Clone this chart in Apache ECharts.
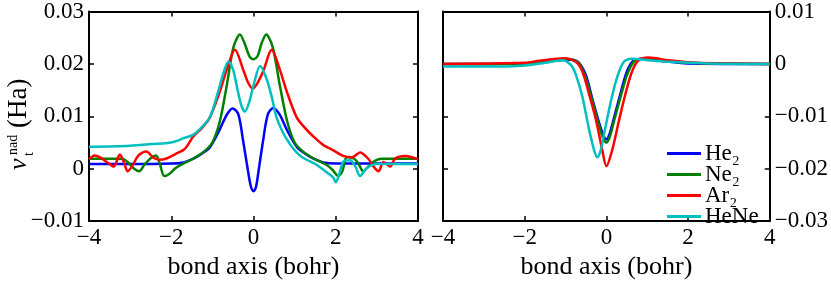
<!DOCTYPE html>
<html><head><meta charset="utf-8">
<script src="https://cdn.jsdelivr.net/npm/echarts@6/dist/echarts.min.js"></script>
<style>html,body{margin:0;padding:0;background:#fff}#c{width:831px;height:285px}</style>
</head><body><div id="c"></div>
<script>
// ---- data ----
const seriesNames = ['He\u2082', 'Ne\u2082', 'Ar\u2082', 'HeNe'];
const seriesColors = ['#0000ff', '#008000', '#ff0000', '#00bfbf'];
const xTickRange = [-4, 4, 2];            // min, max, interval (bohr)
const leftYTickRange = [-0.01, 0.03, 0.01];
const rightYTickRange = [-0.03, 0.01, 0.01];
const xAxisTitle = 'bond axis (bohr)';

// left panel
const he2Left = [[-4,0.0009],[-3,0.0009],[-2,0.001],[-1.7,0.0012],[-1.46,0.0019],[-1.25,0.0029],[-1.06,0.0041],[-0.82,0.0075],[-0.65,0.0103],[-0.51,0.0115],[-0.37,0.0104],[-0.25,0.0052],[-0.13,-0.0006],[-0.06,-0.0035],[0,-0.0043],[0.06,-0.0035],[0.12,-0.0006],[0.23,0.0052],[0.35,0.0104],[0.48,0.0116],[0.63,0.0104],[0.8,0.0076],[1.06,0.0041],[1.25,0.0029],[1.46,0.0019],[1.7,0.0012],[2,0.001],[3,0.001],[4,0.001]];
const ne2Left = [[-4,0.0019],[-3.4,0.0019],[-3.2,0.0019],[-3.05,0.0012],[-2.9,0.0],[-2.78,-0.0005],[-2.65,0.0008],[-2.5,0.002],[-2.37,0.0025],[-2.28,0.001],[-2.17,-0.0014],[-2.05,-0.001],[-1.9,0.0001],[-1.78,0.0007],[-1.45,0.002],[-1.2,0.0033],[-1.0,0.005],[-0.82,0.009],[-0.65,0.0159],[-0.49,0.0231],[-0.33,0.0256],[-0.22,0.024],[-0.1,0.0215],[0,0.0209],[0.1,0.0215],[0.2,0.024],[0.31,0.0256],[0.47,0.0231],[0.64,0.0159],[0.82,0.009],[1.0,0.005],[1.2,0.0033],[1.45,0.002],[1.78,0.0007],[1.92,-0.0002],[2.06,-0.0014],[2.16,-0.0005],[2.27,0.0022],[2.45,0.0019],[2.55,0.001],[2.67,-0.0005],[2.8,0.0005],[2.95,0.0015],[3.12,0.0019],[4,0.0019]];
const ar2Left = [[-4,0.0018],[-3.86,0.0025],[-3.72,0.0021],[-3.55,0.0012],[-3.4,0.0004],[-3.25,0.0027],[-3.15,0.0012],[-3.06,-0.0005],[-2.95,0.0005],[-2.8,0.0025],[-2.6,0.0033],[-2.45,0.0022],[-2.3,0.0017],[-2.1,0.002],[-1.9,0.0028],[-1.67,0.0038],[-1.46,0.0062],[-1.25,0.0078],[-1.06,0.0098],[-0.82,0.0147],[-0.65,0.0189],[-0.45,0.0227],[-0.25,0.0189],[-0.13,0.0164],[-0.02,0.0153],[0.1,0.0164],[0.25,0.0189],[0.44,0.0227],[0.64,0.0189],[0.81,0.0147],[1.05,0.0098],[1.25,0.0078],[1.45,0.0062],[1.7,0.0045],[1.94,0.0035],[2.2,0.0024],[2.4,0.0022],[2.59,0.0031],[2.79,0.0019],[2.92,0.0004],[3.04,-0.0005],[3.16,0.0013],[3.32,0.0004],[3.44,0.0019],[3.69,0.0024],[3.85,0.0022],[4,0.0018]];
const heneLeft = [[-4,0.0042],[-3,0.0044],[-2.48,0.0047],[-2.0,0.005],[-1.67,0.0059],[-1.46,0.0065],[-1.25,0.008],[-1.06,0.0098],[-0.86,0.0147],[-0.72,0.0185],[-0.61,0.0204],[-0.5,0.019],[-0.41,0.0159],[-0.3,0.0122],[-0.21,0.0109],[-0.1,0.0128],[0,0.0159],[0.16,0.0196],[0.32,0.0171],[0.45,0.0135],[0.56,0.0098],[0.81,0.0056],[1.13,0.0025],[1.54,0.0007],[1.8,-0.0008],[1.94,-0.0017],[2.0,-0.0026],[2.08,-0.0012],[2.18,0.0013],[2.35,0.0016],[2.48,0.0004],[2.59,-0.0014],[2.75,0.0001],[3.0,0.0009],[4,0.0009]];

// right panel
const he2Right = [[-4,0],[-2,0.0001],[-1.5,0.0004],[-1.0,0.0008],[-0.85,0.0008],[-0.67,0.0002],[-0.5,-0.0022],[-0.35,-0.0065],[-0.18,-0.0112],[-0.08,-0.0135],[0,-0.0144],[0.08,-0.0133],[0.18,-0.0105],[0.35,-0.0055],[0.5,-0.0015],[0.65,0.0005],[0.87,0.001],[1.2,0.0007],[2,0.0001],[4,0]];
const ne2Right = [[-4,0],[-2,0.0001],[-1.5,0.0004],[-0.91,0.0009],[-0.67,0.0001],[-0.51,-0.0026],[-0.35,-0.0069],[-0.18,-0.0117],[-0.08,-0.0142],[0,-0.015],[0.08,-0.014],[0.18,-0.0111],[0.35,-0.0062],[0.51,-0.002],[0.67,0.0004],[0.87,0.001],[1.2,0.0008],[2,0.0002],[4,0]];
const ar2Right = [[-4,0],[-2,0.0002],[-1.64,0.0006],[-1.03,0.0011],[-0.75,0.0004],[-0.59,-0.0014],[-0.43,-0.0056],[-0.26,-0.0105],[-0.1,-0.0165],[0,-0.0195],[0.14,-0.0165],[0.3,-0.0111],[0.47,-0.0056],[0.63,-0.0014],[0.79,0.0007],[1.03,0.0012],[1.52,0.0007],[2.2,0.0002],[4,0]];
const heneRight = [[-4,-0.0005],[-2.5,-0.0005],[-2,-0.0003],[-1.5,0.0002],[-1.08,0.0007],[-0.87,-0.0002],[-0.75,-0.002],[-0.59,-0.0062],[-0.43,-0.0123],[-0.3,-0.0165],[-0.22,-0.0178],[-0.14,-0.0165],[-0.06,-0.0135],[0.1,-0.0075],[0.26,-0.0026],[0.43,0.0004],[0.63,0.001],[1.03,0.0007],[1.52,0.0004],[2.5,0.0001],[4,0]];

const leftData = [he2Left, ne2Left, ar2Left, heneLeft];
const rightData = [he2Right, ne2Right, ar2Right, heneRight];

// ---- chart ----
const FONT = 'Liberation Serif';
const tickTxt = {fontFamily: FONT, fontSize: 23, color: '#000'};
const nameTxt = {fontFamily: FONT, fontSize: 26, color: '#000'};
const minus = s => String(s).replace('-', '\u2212');
const xFmt = v => minus(v);
const yFmt = v => Math.abs(v) < 1e-9 ? '0' : minus(v.toFixed(2));

function xAx(grid, top) {
  return {
    type: 'value', gridIndex: grid, position: top ? 'top' : 'bottom',
    min: xTickRange[0], max: xTickRange[1], interval: xTickRange[2],
    axisLine: {show: true, onZero: false, lineStyle: {color: '#000', width: 2}},
    axisTick: {show: true, inside: true, length: 5, lineStyle: {color: '#000', width: 1.5}},
    axisLabel: top ? {show: false} : Object.assign({formatter: xFmt, margin: 5, hideOverlap: false}, tickTxt),
    splitLine: {show: false},
    name: top ? '' : xAxisTitle, nameLocation: 'middle', nameGap: 26, nameTextStyle: nameTxt
  };
}
function yAx(grid, range, right, labels) {
  return {
    type: 'value', gridIndex: grid, position: right ? 'right' : 'left',
    min: range[0], max: range[1], interval: range[2],
    axisLine: {show: true, onZero: false, lineStyle: {color: '#000', width: 2}},
    axisTick: {show: true, inside: true, length: 5, lineStyle: {color: '#000', width: 1.5}},
    axisLabel: labels ? Object.assign({formatter: yFmt, margin: 5}, tickTxt) : {show: false},
    splitLine: {show: false}
  };
}

const series = [];
leftData.forEach((d, i) => series.push({
  name: seriesNames[i], type: 'line', xAxisIndex: 0, yAxisIndex: 0, data: d,
  showSymbol: false, smooth: 0.3, color: seriesColors[i],
  lineStyle: {width: 2.5, color: seriesColors[i]}
}));
rightData.forEach((d, i) => series.push({
  name: seriesNames[i], type: 'line', xAxisIndex: 2, yAxisIndex: 3, data: d,
  showSymbol: false, smooth: 0.3, color: seriesColors[i],
  lineStyle: {width: 2.5, color: seriesColors[i]}
}));

const chart = echarts.init(document.getElementById('c'), null, {renderer: 'canvas'});
chart.setOption({
  animation: false,
  backgroundColor: '#fff',
  grid: [
    {left: 89, top: 9, width: 329, height: 220},
    {left: 443, top: 9, width: 329, height: 220}
  ],
  xAxis: [xAx(0, false), xAx(0, true), xAx(1, false), xAx(1, true)],
  yAxis: [yAx(0, leftYTickRange, false, true), yAx(0, leftYTickRange, true, false),
          yAx(1, rightYTickRange, false, false), yAx(1, rightYTickRange, true, true)],
  legend: {
    data: seriesNames, orient: 'vertical', left: 667, top: 142,
    itemWidth: 34, itemHeight: 3, itemGap: -2, icon: 'rect', padding: 0,
    textStyle: {fontFamily: FONT, fontSize: 23, lineHeight: 20, color: '#000', padding: [0, 0, 0, -1]}
  },
  graphic: [{
    type: 'group', x: 27, y: 170, rotation: Math.PI / 2,
    children: [
      {type: 'text', x: 0, y: -8, style: {text: 'v', fontFamily: FONT, fontStyle: 'italic', fontSize: 26, fill: '#000', align: 'left', verticalAlign: 'middle'}},
      {type: 'text', x: 14, y: 2, style: {text: 't', fontFamily: FONT, fontSize: 14, fill: '#000', align: 'left', verticalAlign: 'middle'}},
      {type: 'text', x: 15, y: -14, style: {text: 'nad', fontFamily: FONT, fontSize: 14, fill: '#000', align: 'left', verticalAlign: 'middle'}},
      {type: 'text', x: 42, y: -8, style: {text: '(Ha)', fontFamily: FONT, fontSize: 27, fill: '#000', align: 'left', verticalAlign: 'middle'}}
    ]
  }],
  series: series
});
</script></body></html>
